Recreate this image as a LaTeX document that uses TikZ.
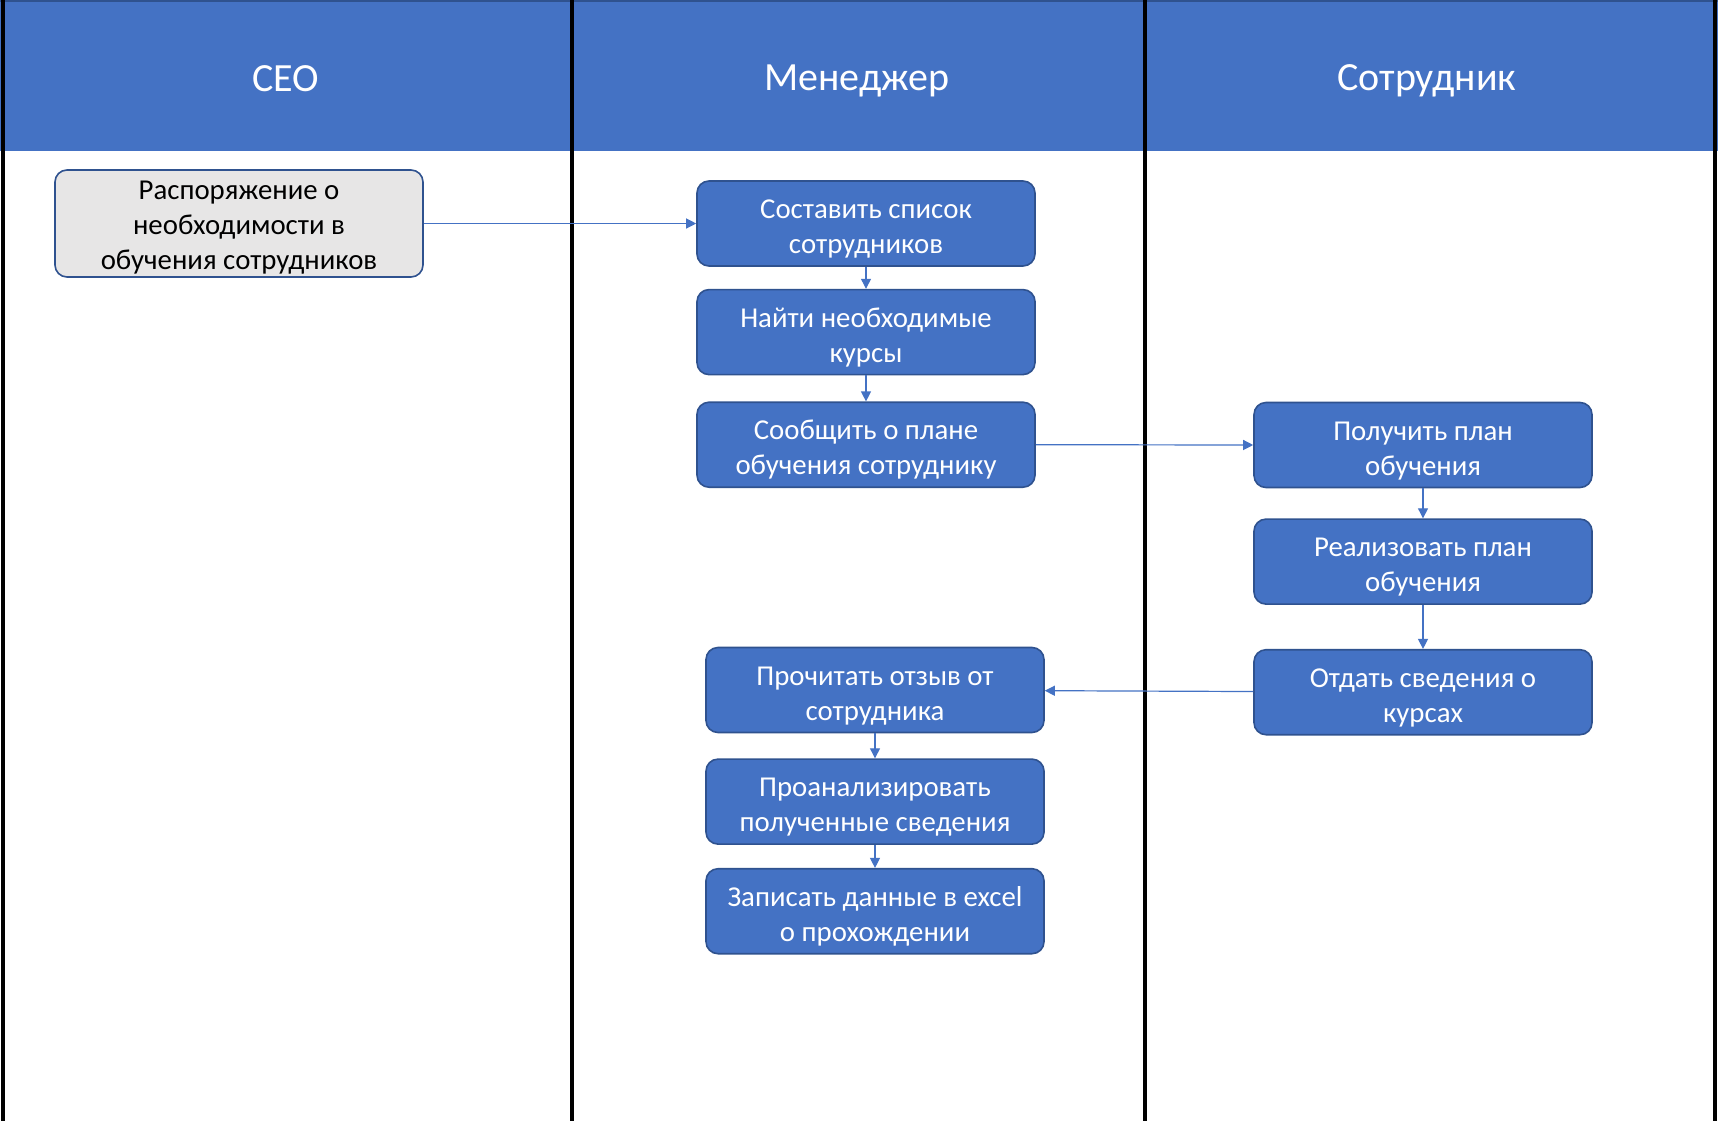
\documentclass[tikz,border=0pt]{standalone}
\usepackage{fontspec}
\setmainfont{Carlito}
\usetikzlibrary{positioning,arrows.meta}
\definecolor{hdrblue}{HTML}{4472C4}
\definecolor{edgeblue}{HTML}{2F528F}
\definecolor{ceogray}{HTML}{E7E6E6}
\newcommand{\toppad}{\rule{0pt}{15pt}}
\tikzset{
  task/.style={draw=edgeblue, fill=hdrblue, text=white, rounded corners=6pt, line width=0.8pt,
    minimum width=169pt, minimum height=42.5pt, align=center, inner sep=2pt,
    font=\fontsize{14.4}{17.5}\selectfont},
  flow/.style={-{Triangle[length=5pt,width=5pt]}, draw=hdrblue, line width=0.6pt},
  lane/.style={line width=2pt, black},
  hdr/.style={text=white, font=\fontsize{20}{24}\selectfont}
}

\begin{document}
\begin{tikzpicture}[x=0.5pt,y=-0.5pt]
	\useasboundingbox (0,0) rectangle (1718,1125);
	\fill[white] (0,0) rectangle (1718,1125);
	\fill[hdrblue] (0,0) rectangle (1718,151);
	\draw[edgeblue, line width=1pt] (0,1) -- (1718,1);
	\foreach \x in {3,572,1145,1715}
		\draw[lane] (\x,0) -- (\x,1121);
	\node[hdr] (hCEO) at (286,79) {CEO};
	\node[hdr] (hMgr) at (857,81) {Менеджер};
	\node[hdr] (hEmp) at (1427,81) {Сотрудник};

	\node[task, fill=ceogray, text=black, minimum width=184pt, minimum height=53.5pt, inner ysep=0pt] (ceo) at (239,223.5)
		{\rule{0pt}{13pt}Распоряжение о\\необходимости в\\обучения сотрудников};
	\node[task] (spisok) at (866,223.5) {\toppad Составить список\\сотрудников};
	\node[task, below = 11pt of spisok] (kursy) {\toppad Найти необходимые\\курсы};
	\node[task, below = 13pt of kursy] (soobsh) {\toppad Сообщить о плане\\обучения сотруднику};
	\node[task] (plan) at (1423,445) {\toppad Получить план\\обучения};
	\node[task, below = 15pt of plan] (real) {\toppad Реализовать план\\обучения};
	\node[task, below = 22pt of real] (otdat) {\toppad Отдать сведения о\\курсах};
	\node[task] (otzyv) at (875,690) {\toppad Прочитать отзыв от\\сотрудника};
	\node[task, below = 12.5pt of otzyv] (analiz) {\toppad Проанализировать\\полученные сведения};
	\node[task, below = 11.5pt of analiz] (zapis) {\toppad Записать данные в excel\\о прохождении};

	\draw[flow] (ceo) -- (spisok);
	\draw[flow] (spisok) -- (kursy);
	\draw[flow] (kursy) -- (soobsh);
	\draw[flow] (soobsh.east) -- (plan.west);
	\draw[flow] (plan) -- (real);
	\draw[flow] (real) -- (otdat);
	\draw[flow] (otdat) -- (otzyv);
	\draw[flow] (otzyv) -- (analiz);
	\draw[flow] (analiz) -- (zapis);
\end{tikzpicture}
\end{document}
